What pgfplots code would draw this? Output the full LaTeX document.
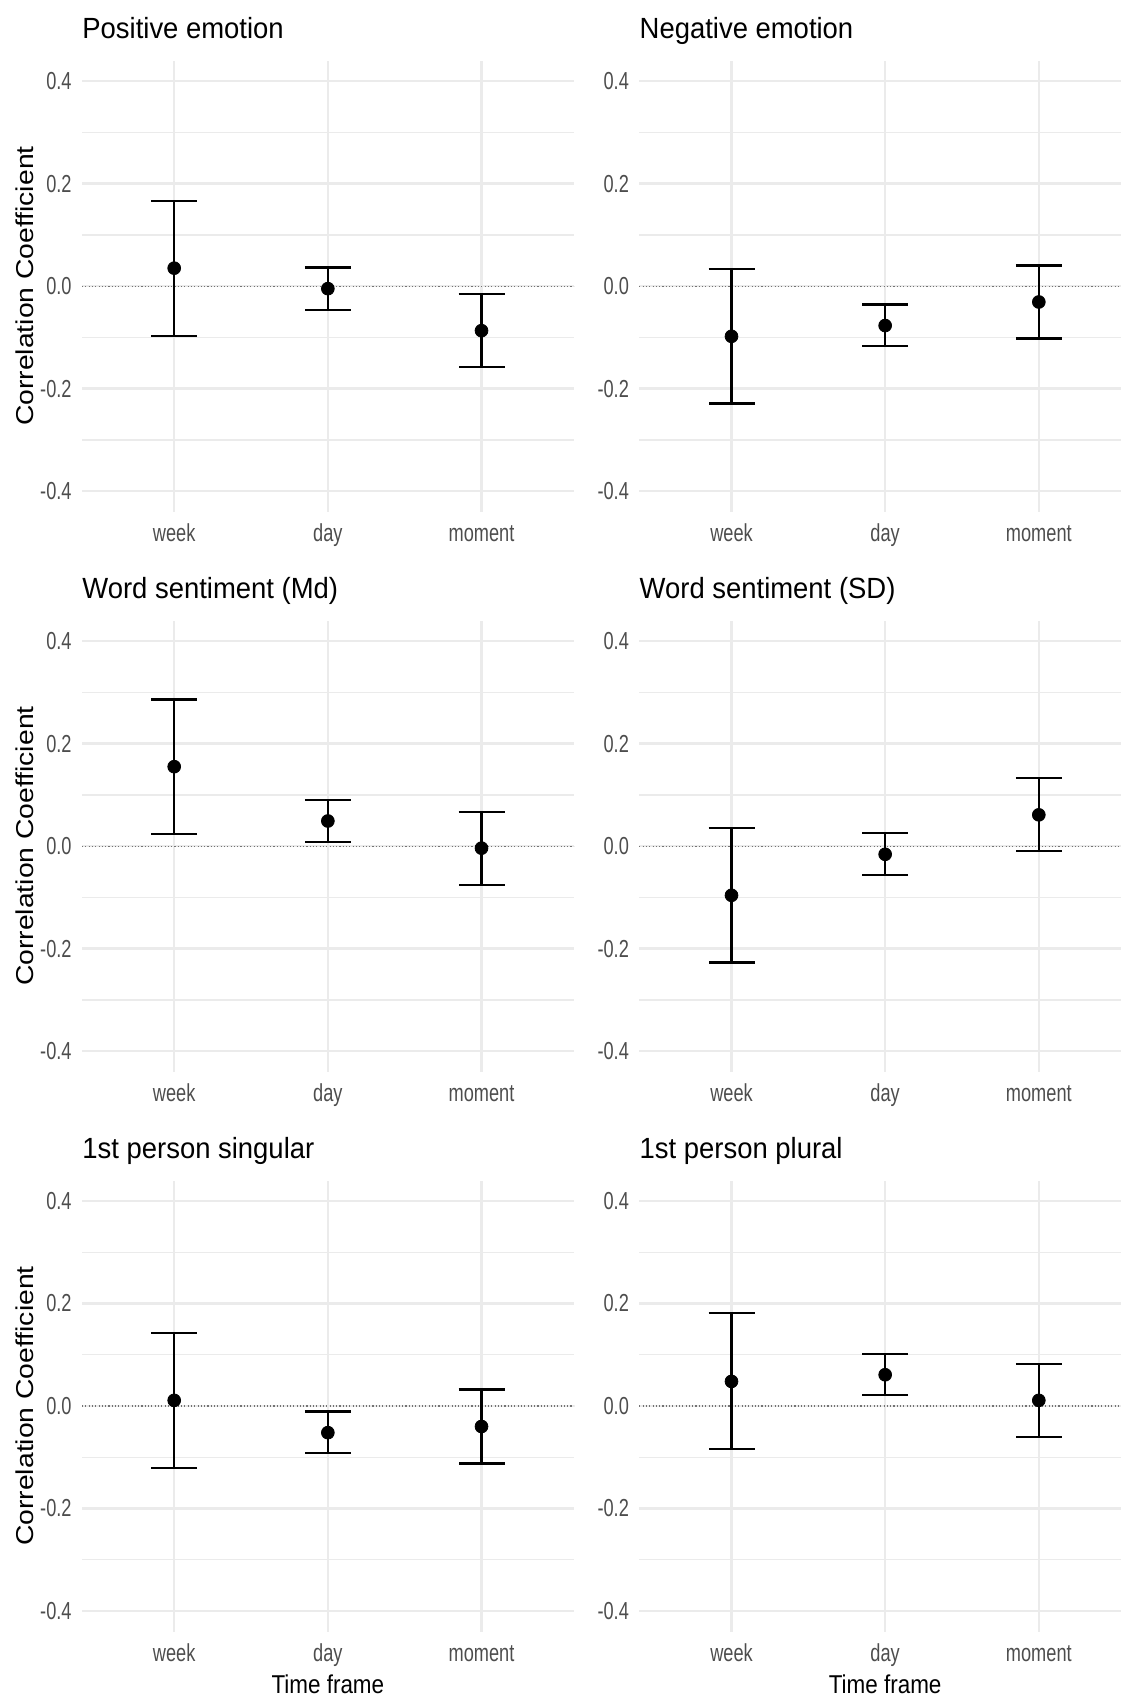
\documentclass[border=0pt]{standalone}
\usepackage{pgfplots}
\pgfplotsset{compat=1.18}
\usepackage{pgfplotstable}
\usepackage{fontspec}
\setmainfont{Liberation Sans}
\newfontfamily\titlefont[FakeStretch=0.94]{Liberation Sans}
\newfontfamily\tickfont[FakeStretch=0.74]{Liberation Sans}
\newfontfamily\ylabfont[FakeStretch=1.16]{Liberation Sans}
\newfontfamily\xlabfont[FakeStretch=0.87]{Liberation Sans}
\definecolor{gridgray}{RGB}{235,235,235}
\definecolor{tickgray}{RGB}{77,77,77}

% x: 1=week 2=day 3=moment; y = estimate, lo/hi = interval
\pgfplotstableread{
x y lo hi
1 0.035 -0.098 0.166
2 -0.005 -0.046 0.036
3 -0.087 -0.158 -0.016
}\posemo
\pgfplotstableread{
x y lo hi
1 -0.098 -0.229 0.034
2 -0.077 -0.117 -0.036
3 -0.031 -0.102 0.040
}\negemo
\pgfplotstableread{
x y lo hi
1 0.155 0.024 0.286
2 0.049 0.008 0.090
3 -0.004 -0.076 0.067
}\sentmd
\pgfplotstableread{
x y lo hi
1 -0.096 -0.227 0.036
2 -0.016 -0.057 0.025
3 0.061 -0.010 0.133
}\sentsd
\pgfplotstableread{
x y lo hi
1 0.011 -0.121 0.143
2 -0.052 -0.092 -0.011
3 -0.040 -0.112 0.032
}\isg
\pgfplotstableread{
x y lo hi
1 0.048 -0.084 0.182
2 0.061 0.021 0.102
3 0.011 -0.061 0.082
}\ipl

\pgfplotsset{
  panel/.style={
    width=245.85pt, height=225.5pt, scale only axis,
    xmin=0.4, xmax=3.6, ymin=-0.44, ymax=0.44,
    xtick={1,2,3}, xticklabels={week,day,moment},
    ytick={-0.4,-0.2,0,0.2,0.4}, yticklabels={-0.4,-0.2,0.0,0.2,0.4},
    minor ytick={-0.3,-0.1,0.1,0.3},
    xmajorgrids, ymajorgrids, yminorgrids,
    major grid style={gridgray, line width=1.2pt},
    minor grid style={gridgray, line width=0.7pt},
    axis line style={draw=none},
    major tick length=0pt, minor tick length=0pt,
    tick style={draw=none},
    ticklabel style={font=\tickfont\fontsize{12.3}{12.3}\selectfont, text=tickgray, inner sep=0pt},
    yticklabel style={anchor=east, xshift=-5pt},
    xticklabel style={anchor=base, yshift=-15pt},
    title style={at={(axis description cs:0,1)}, anchor=base west, yshift=5pt,
      inner sep=0pt, font=\titlefont\fontsize{14.6}{14.6}\selectfont},
    clip=false,
  },
  ylab/.style={ylabel={Correlation Coefficient},
    ylabel style={at={(axis description cs:-0.099,0.5)}, anchor=base,
      inner sep=0pt, font=\ylabfont\fontsize{12.2}{12.2}\selectfont}},
  xlab/.style={xlabel={Time frame},
    xlabel style={at={(axis description cs:0.5,0)}, anchor=base, yshift=-31.15pt,
      inner sep=0pt, font=\xlabfont\fontsize{12.9}{12.9}\selectfont}},
  zeroline/.style={black!55, line width=0.55pt, dash pattern=on 0.55pt off 1.1pt},
  ci/.style={black, only marks, mark=*, mark size=3.2pt,
    error bars/.cd, y dir=both, y explicit,
    error bar style={line width=1.15pt, black},
    error mark options={rotate=90, mark size=11.5pt, line width=1.15pt, black}},
  /pgfplots/table/citab/.style={x=x, y=y,
    y error plus expr=\thisrow{hi}-\thisrow{y},
    y error minus expr=\thisrow{y}-\thisrow{lo}},
}

\begin{document}
\begin{tikzpicture}
\begin{axis}[panel, ylab, title={Positive emotion}, at={(41pt,-30.3pt)}, anchor=north west]
  \addplot[zeroline] coordinates {(0.4,0) (3.6,0)};
  \addplot[ci] table[citab] {\posemo};
\end{axis}
\begin{axis}[panel, title={Negative emotion}, at={(319.65pt,-30.3pt)}, anchor=north west]
  \addplot[zeroline] coordinates {(0.4,0) (3.6,0)};
  \addplot[ci] table[citab] {\negemo};
\end{axis}
\begin{axis}[panel, ylab, title={Word sentiment (Md)}, at={(41pt,-310.3pt)}, anchor=north west]
  \addplot[zeroline] coordinates {(0.4,0) (3.6,0)};
  \addplot[ci] table[citab] {\sentmd};
\end{axis}
\begin{axis}[panel, title={Word sentiment (SD)}, at={(319.65pt,-310.3pt)}, anchor=north west]
  \addplot[zeroline] coordinates {(0.4,0) (3.6,0)};
  \addplot[ci] table[citab] {\sentsd};
\end{axis}
\begin{axis}[panel, ylab, xlab, title={1st person singular}, at={(41pt,-590.25pt)}, anchor=north west]
  \addplot[zeroline] coordinates {(0.4,0) (3.6,0)};
  \addplot[ci] table[citab] {\isg};
\end{axis}
\begin{axis}[panel, xlab, title={1st person plural}, at={(319.65pt,-590.25pt)}, anchor=north west]
  \addplot[zeroline] coordinates {(0.4,0) (3.6,0)};
  \addplot[ci] table[citab] {\ipl};
\end{axis}
\pgfresetboundingbox
\path[use as bounding box] (0,0) rectangle (560pt,-848.5pt);
\end{tikzpicture}
\end{document}
